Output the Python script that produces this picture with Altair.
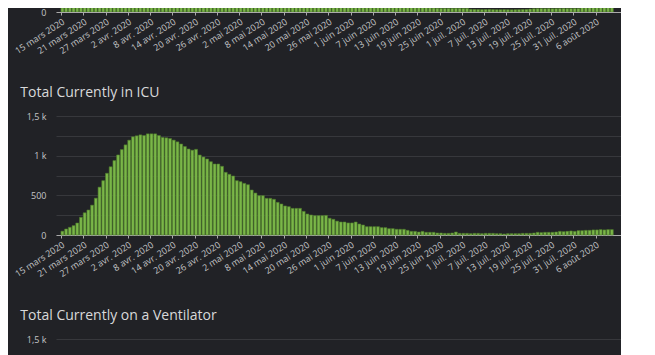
import altair as alt
import pandas as pd

START = "2020-03-15"

# Top (partially visible) panel: only the lowest part of its bars shows
hospitalized = [
    215, 300, 415, 500,
    640, 820, 1050, 1300, 1600, 1950, 2300, 2650, 2950, 3250, 3500, 3750, 3950, 4150, 4300, 4450,
    4550, 4600, 4650, 4700, 4680, 4650, 4600, 4520, 4450, 4350, 4250, 4150, 4050, 3950, 3850, 3750, 3650, 3550, 3450, 3350,
    3250, 3150, 3050, 2950, 2850, 2750, 2650, 2550, 2450, 2350, 2250, 2150, 2050, 1950, 1850, 1750, 1650, 1560, 1480, 1400,
    1320, 1250, 1180, 1110, 1050, 990, 940, 890, 840, 800, 760, 730, 700, 670, 650, 630, 610, 595, 580, 570, 560, 555,
    500, 470, 460, 450, 440, 420, 370, 360, 350, 330, 320, 300, 300, 250, 235, 235, 225, 215, 200,
    190, 185, 185, 180, 185, 190, 185, 180, 185,
    135, 130, 125, 120, 125, 130, 120, 115, 115, 120, 115, 110, 115, 120, 125, 130, 150,
    165, 170, 175, 170, 175, 165, 170, 175, 180, 170, 175, 180, 175,
    240, 245, 250, 245, 250, 255, 250, 255, 260,
]

icu = [
    48, 76, 97, 118, 151, 223, 280, 315, 376, 464,
    603, 685, 778, 860, 938, 1009, 1077, 1136, 1195, 1238,
    1250, 1262, 1254, 1275, 1275, 1275, 1254, 1230, 1225, 1216,
    1196, 1174, 1147, 1114, 1084, 1069, 1080, 1008, 983, 958,
    924, 895, 895, 866, 790, 765, 744, 685, 672, 651,
    634, 567, 529, 496, 496, 462, 462, 450, 412, 391,
    366, 357, 336, 336, 336, 298, 265, 252, 244, 244,
    244, 247, 211, 198, 175, 164, 164, 152, 152, 164,
    139, 126, 105, 105, 105, 105, 93, 93, 80, 80,
    72, 72, 72, 59, 46, 46, 38, 46, 34, 34,
    34, 25, 25, 21, 21, 25, 38, 21, 21, 21,
    17, 21, 21, 17, 21, 21, 21, 17, 17, 13,
    17, 17, 17, 17, 21, 21, 21, 25, 34, 30,
    34, 34, 34, 38, 46, 42, 46, 51, 46, 55,
    55, 59, 59, 64, 64, 68, 64, 68, 68,
]

panel_titles = ["Total Currently in ICU", "Total Currently on a Ventilator"]
months_fr = ["janv.", "févr.", "mars", "avr.", "mai", "juin",
             "juil.", "août", "sept.", "oct.", "nov.", "déc."]
tick_dates = pd.date_range(START, "2020-08-06", freq="6D")

dates = pd.date_range(START, periods=len(icu), freq="D").strftime("%Y-%m-%d").tolist()
top_df = pd.DataFrame({"date": dates, "value": hospitalized})
icu_df = pd.DataFrame({"date": dates, "value": icu})

BG = "#212226"
GRID = "#37383c"
LABEL = "#c4c5c7"
FONT = "Open Sans"

month_arr = "[" + ",".join("'" + m + "'" for m in months_fr) + "]"
x_label_expr = ("utcdate(datum.value) + ' ' + " + month_arr +
                "[utcmonth(datum.value)] + ' ' + utcyear(datum.value)")

x_scale = alt.Scale(
    type="utc",
    domain=[alt.DateTime(year=2020, month=3, date=15, utc=True),
            alt.DateTime(year=2020, month=8, date=11, hours=12, utc=True)],
)

def x_axis():
    return alt.Axis(
        values=[alt.DateTime(year=d.year, month=d.month, date=d.day, utc=True) for d in tick_dates],
        labelExpr=x_label_expr, labelAngle=-33, labelAlign="right", labelBaseline="top",
        labelPadding=2, labelFont=FONT, labelFontSize=9, labelColor=LABEL,
        labelOverlap=False, labelFlush=False, grid=False, ticks=True, tickSize=3,
        tickColor="#aaaaaa", domainColor="#aaaaaa", domainWidth=1, title=None,
    )

y_label_expr = ("datum.value % 500 != 0 ? '' : (datum.value >= 1000 ? "
                "replace(format(datum.value / 1000, '~g'), '.', ',') + ' k' : format(datum.value, 'd'))")

def y_axis(vals):
    return alt.Axis(
        values=vals, labelExpr=y_label_expr, grid=True, gridColor=GRID, gridWidth=1,
        domain=False, ticks=False, labelPadding=10, labelFont=FONT, labelFontSize=9,
        labelColor=LABEL, title=None,
    )

bar_kw = dict(width=2.9, color="#7ab648", stroke="#4e7a2c", strokeWidth=0.6, xOffset=1.4)

W = 565

top = alt.Chart(top_df).mark_bar(clip=True, **bar_kw).encode(
    x=alt.X("date:T", scale=x_scale, axis=x_axis()),
    y=alt.Y("value:Q", scale=alt.Scale(domain=[0, 550], nice=False, zero=True),
            axis=y_axis([0])),
).properties(width=W, height=11)

def title(t):
    return alt.TitleParams(t, anchor="start", dx=7, fontSize=14, font=FONT,
                           color="#d8d9da", fontWeight="normal", offset=12)

grid_vals = [0, 250, 500, 750, 1000, 1250, 1500]

icu_chart = alt.Chart(icu_df).mark_bar(**bar_kw).encode(
    x=alt.X("date:T", scale=x_scale, axis=x_axis()),
    y=alt.Y("value:Q", scale=alt.Scale(domain=[0, 1500], nice=False), axis=y_axis(grid_vals)),
).properties(width=W, height=119, title=title(panel_titles[0]))

vent_chart = alt.Chart(alt.Data(values=[{"date": START, "value": 0}])).mark_bar(**bar_kw).encode(
    x=alt.X("date:T", scale=x_scale, axis=x_axis()),
    y=alt.Y("value:Q", scale=alt.Scale(domain=[0, 1500], nice=False), axis=y_axis(grid_vals)),
).properties(width=W, height=119, title=title(panel_titles[1]))

chart = alt.vconcat(top, icu_chart, vent_chart, spacing=30).properties(
    padding={"left": 5, "top": -7, "right": 0, "bottom": 0},
    usermeta={"embedOptions": {"defaultStyle": "body { margin: 0; background: #212226; overflow: hidden; }"}},
).configure(background=BG).configure_view(stroke=None)

chart.save("out.html", embed_options={"renderer": "svg", "actions": False})
